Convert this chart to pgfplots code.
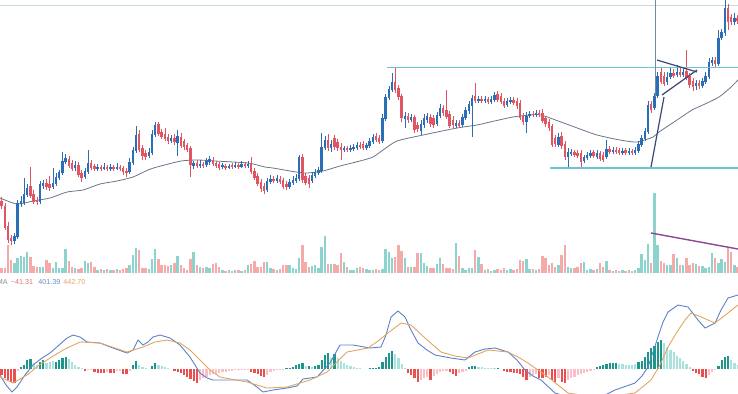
\documentclass[border=0pt]{standalone}
\usepackage{pgfplots}
\usepackage{pgfplotstable}
\pgfplotsset{compat=1.18}
\usepackage{fontspec}
\setmainfont{Liberation Sans}
\definecolor{upc}{HTML}{2C6EB5}
\definecolor{dnc}{HTML}{E05564}
\definecolor{volup}{HTML}{8CD2CD}
\definecolor{voldn}{HTML}{F5AAAA}
\definecolor{mdk}{HTML}{1E968C}
\definecolor{mlt}{HTML}{AAE1DC}
\definecolor{mred}{HTML}{EB5050}
\definecolor{mpink}{HTML}{FABEC8}
\definecolor{macdb}{HTML}{5A82C8}
\definecolor{macdo}{HTML}{E1A564}
\definecolor{maline}{HTML}{6A7588}
\definecolor{hline}{HTML}{6CC3D6}
\definecolor{vline}{HTML}{6E8CAA}
\definecolor{tri}{HTML}{3C4678}
\definecolor{trend}{HTML}{8C4696}
\definecolor{topl}{HTML}{C8DAE3}
\definecolor{lblgray}{HTML}{8A8A8A}
\definecolor{lblred}{HTML}{E57373}
\definecolor{lblblue}{HTML}{6B8CCC}
\definecolor{lblor}{HTML}{E0A860}
\pgfplotsset{cbar/.style 2 args={only marks, mark=*, mark size=0.01pt, mark options={draw opacity=0, fill opacity=0}, error bars/y dir=plus, error bars/y explicit, error bars/error mark=none, error bars/error bar style={line width=#1, color=#2, line cap=butt, solid, draw opacity=1}}}
\pgfplotstableread{
i u o h l c v m k
0 0 201 197 209 206 268 375 3
1 0 206 203 230 228 268 378 3
2 0 226 222 243 240 245 380 3
3 0 238 235 245 241 260 382 3
4 1 241 233 244 236 263 383 3
5 1 237 200 239 203 258 371 4
6 1 204 196 207 201 256 367 1
7 1 203 178 205 194 257 365 1
8 1 195 184 197 188 252 360 1
9 0 186 167 198 196 257 359 1
10 0 194 190 204 202 266 363 2
11 0 200 197 205 202 267 365 2
12 1 202 181 204 184 267 362 1
13 1 186 180 189 183 267 360 1
14 0 183 179 190 187 260 363 2
15 0 184 176 191 188 263 362 2
16 1 187 168 189 183 268 361 2
17 1 184 173 186 177 262 362 1
18 1 178 170 180 172 268 360 1
19 1 173 152 175 161 268 358 1
20 1 162 154 164 158 249 357 1
21 0 159 156 168 166 261 359 2
22 0 163 160 171 169 267 362 2
23 1 168 161 171 165 268 365 2
24 0 165 162 177 175 269 367 2
25 0 173 170 182 178 268 368 2
26 1 177 168 179 171 261 371 3
27 1 172 150 174 163 263 370 4
28 0 163 160 170 168 262 370 4
29 0 166 164 171 169 267 372 3
30 1 169 164 171 167 270 373 3
31 0 167 165 171 169 269 373 3
32 1 169 163 170 167 270 373 3
33 0 167 165 171 169 269 372 4
34 1 169 164 171 167 270 373 3
35 0 167 165 171 169 270 373 3
36 1 169 163 170 167 269 371 4
37 0 167 165 171 169 270 371 4
38 0 168 166 175 172 269 374 3
39 0 171 168 177 173 268 374 3
40 1 172 158 174 162 265 371 4
41 1 163 147 165 150 255 365 1
42 1 151 126 153 135 248 361 1
43 0 134 130 152 150 250 365 2
44 0 148 145 160 156 268 367 2
45 0 153 150 160 157 268 368 2
46 1 156 148 158 152 269 369 2
47 1 153 130 155 134 259 366 1
48 1 135 122 137 125 249 363 1
49 0 124 122 136 134 259 365 2
50 0 132 129 139 137 265 366 2
51 0 134 128 141 139 265 367 2
52 0 137 134 144 141 266 368 2
53 1 141 135 143 138 265 369 2
54 0 138 134 145 142 263 371 3
55 1 143 130 156 136 256 372 3
56 0 137 133 148 146 265 373 3
57 0 141 139 150 147 268 375 3
58 0 145 143 152 150 270 377 3
59 0 148 146 177 165 259 379 3
60 1 166 161 169 163 252 381 3
61 0 163 160 168 166 265 383 3
62 1 166 160 168 164 267 380 4
63 0 164 162 168 166 268 378 4
64 1 165 158 167 161 267 377 4
65 1 162 156 165 159 268 375 4
66 0 160 157 166 164 264 374 4
67 0 163 161 168 166 263 374 4
68 0 164 162 170 168 267 373 4
69 1 167 163 169 165 270 372 4
70 0 166 164 170 168 271 372 4
71 1 168 164 169 166 270 371 4
72 0 165 163 169 167 271 371 4
73 1 167 162 168 165 270 370 4
74 0 165 163 169 167 270 370 4
75 1 167 161 168 164 271 370 4
76 0 164 162 168 166 270 370 4
77 1 166 161 168 164 265 370 4
78 0 163 157 174 172 264 372 3
79 0 171 168 180 178 261 373 3
80 0 176 173 186 184 267 374 3
81 0 182 179 192 189 267 376 3
82 0 186 183 194 191 262 377 3
83 1 190 178 192 181 262 375 4
84 1 182 175 184 179 268 372 4
85 0 179 176 183 181 269 371 4
86 1 181 175 183 178 270 370 4
87 0 179 176 184 182 269 370 4
88 0 180 178 189 187 265 370 4
89 0 184 181 190 187 265 368 1
90 1 187 179 189 182 265 368 1
91 1 183 176 185 180 268 367 1
92 1 181 174 183 178 269 365 1
93 1 179 155 181 157 258 364 1
94 0 157 154 183 180 245 363 1
95 0 176 173 185 183 262 366 2
96 0 178 175 188 184 267 366 1
97 1 181 172 183 175 266 367 2
98 1 176 169 178 172 265 366 1
99 1 173 167 175 170 268 365 1
100 1 171 133 173 147 247 360 1
101 1 148 136 150 140 236 355 1
102 0 140 134 151 148 264 353 1
103 1 148 140 152 144 264 358 2
104 0 138 135 150 147 264 354 1
105 0 142 139 151 148 265 358 2
106 0 147 143 160 150 253 361 2
107 1 150 146 152 148 262 363 2
108 0 148 146 152 150 267 365 2
109 1 150 145 152 148 270 366 2
110 1 149 144 151 147 270 367 2
111 1 148 142 150 145 268 368 2
112 0 145 142 149 147 267 368 2
113 0 144 141 150 148 268 369 2
114 1 148 143 150 145 269 369 2
115 1 146 138 148 141 270 368 1
116 1 142 134 144 137 270 368 1
117 0 136 133 142 140 269 368 1
118 0 138 135 144 142 270 367 1
119 1 141 114 143 118 269 362 1
120 1 119 94 121 97 249 357 1
121 1 98 86 100 89 252 353 1
122 1 90 73 92 82 258 351 1
123 0 82 68 93 90 257 354 2
124 0 88 85 100 97 245 358 2
125 0 96 94 122 118 251 364 2
126 1 119 112 128 116 258 368 2
127 0 116 113 123 120 267 373 3
128 1 120 114 122 117 267 375 3
129 0 117 115 133 130 267 378 3
130 0 125 122 132 129 253 382 3
131 1 131 120 135 124 253 380 4
132 1 125 114 128 118 263 378 4
133 1 120 113 123 116 266 377 4
134 0 117 114 127 124 268 380 3
135 0 118 115 128 125 268 376 4
136 1 124 112 126 115 264 374 4
137 1 116 104 118 108 258 372 4
138 0 108 105 116 113 264 371 4
139 0 110 90 119 117 268 371 4
140 0 114 111 128 126 268 372 3
141 0 120 116 128 125 269 374 3
142 1 126 120 128 123 243 376 3
143 0 123 120 128 126 256 373 4
144 1 125 114 127 117 268 372 4
145 1 118 107 120 110 270 371 4
146 1 111 101 114 104 268 367 1
147 1 106 95 137 98 268 366 1
148 0 96 83 103 101 250 366 1
149 1 101 96 103 99 257 367 2
150 0 99 96 103 101 264 367 2
151 1 101 96 103 99 270 368 2
152 0 99 97 104 102 269 368 2
153 1 102 96 104 99 271 368 2
154 1 100 92 102 95 270 368 2
155 0 94 91 102 100 269 368 1
156 0 96 93 104 102 270 369 2
157 0 101 98 108 106 268 371 3
158 1 105 98 107 101 270 372 3
159 1 102 97 104 100 269 372 3
160 0 100 97 105 103 270 373 3
161 0 101 98 109 106 269 373 3
162 0 103 100 120 118 260 374 3
163 0 116 113 125 122 261 377 3
164 1 122 112 133 116 259 380 3
165 1 116 111 118 114 269 377 4
166 0 114 111 117 115 269 375 4
167 1 115 110 117 113 270 374 4
168 0 113 110 117 115 269 378 3
169 0 113 109 123 121 256 378 3
170 0 118 116 127 124 258 377 3
171 0 122 119 131 128 265 375 4
172 0 126 124 147 145 263 380 3
173 0 138 135 147 144 267 382 3
174 1 145 133 147 137 265 378 4
175 0 136 132 149 146 255 382 3
176 0 144 141 160 157 245 383 3
177 1 157 148 168 152 267 380 4
178 1 154 149 156 152 268 378 4
179 0 152 150 157 155 268 377 4
180 0 153 150 158 156 267 375 4
181 0 153 150 167 162 263 374 4
182 1 161 155 163 157 262 373 4
183 1 158 152 160 155 270 372 4
184 1 156 150 158 153 269 371 4
185 0 152 150 158 156 270 370 4
186 1 157 150 159 153 269 367 1
187 0 153 151 161 159 263 366 1
188 0 155 152 162 160 267 365 1
189 1 157 140 159 149 261 364 1
190 0 149 146 154 152 270 363 1
191 1 152 147 154 150 271 363 1
192 0 150 147 154 152 270 363 1
193 0 150 148 155 153 271 364 2
194 1 153 148 155 151 270 364 2
195 0 150 148 155 153 271 365 2
196 1 153 148 155 151 270 365 2
197 0 151 149 155 153 271 365 2
198 1 153 147 155 150 270 364 2
199 1 151 141 153 144 268 362 1
200 1 145 135 147 138 254 361 1
201 1 139 128 141 131 260 357 1
202 1 132 101 134 105 244 352 1
203 0 104 101 113 110 263 348 1
204 1 108 93 110 96 193 346 1
205 1 96 72 98 76 245 342 1
206 0 72 68 84 82 261 340 1
207 0 76 72 86 84 263 343 2
208 1 82 72 85 77 265 347 2
209 1 77 68 79 73 265 350 2
210 0 73 69 78 76 254 352 2
211 1 75 65 77 72 258 356 2
212 0 72 68 77 75 265 358 2
213 1 75 67 77 72 265 361 2
214 0 71 50 80 78 258 364 2
215 0 76 73 88 85 265 367 2
216 0 81 78 91 87 263 371 3
217 1 86 80 90 83 264 373 3
218 0 83 80 89 86 266 374 3
219 1 86 78 88 81 266 377 3
220 1 82 72 84 76 268 378 3
221 1 77 58 79 62 267 375 4
222 1 63 57 66 60 253 372 4
223 0 60 57 68 64 258 370 4
224 1 64 30 66 38 263 366 1
225 1 38 29 40 32 259 360 1
226 1 33 0 36 8 262 357 1
227 0 8 4 30 22 247 356 1
228 0 17 14 25 22 252 360 2
229 1 22 13 25 18 265 363 2
230 0 18 15 24 21 267 365 2
}\data
\begin{document}
\begin{tikzpicture}
\begin{axis}[width=369pt, height=196.5pt, scale only axis,
  xmin=0, xmax=738, ymin=0, ymax=393, y dir=reverse,
  hide axis, clip=true]
\coordinate (SW) at (rel axis cs:0,0);
\coordinate (NE) at (rel axis cs:1,1);
% top line
\addplot[topl, line width=0.5pt] coordinates {(0,5) (738,5)};
% volume
\addplot[restrict expr to domain={\thisrow{u}}{0.5:1.5}, cbar={1.2pt}{volup}] table[x expr=1.6+3.2*\thisrow{i}, y=v, y error plus expr=273-\thisrow{v}] {\data};
\addplot[restrict expr to domain={\thisrow{u}}{-0.5:0.5}, cbar={1.2pt}{voldn}] table[x expr=1.6+3.2*\thisrow{i}, y=v, y error plus expr=273-\thisrow{v}] {\data};
% MACD histogram
\addplot[restrict expr to domain={\thisrow{k}}{0.5:1.5}, cbar={1.1pt}{mdk}] table[x expr=1.6+3.2*\thisrow{i}, y=m, y error plus expr=369-\thisrow{m}] {\data};
\addplot[restrict expr to domain={\thisrow{k}}{1.5:2.5}, cbar={1.1pt}{mlt}] table[x expr=1.6+3.2*\thisrow{i}, y=m, y error plus expr=369-\thisrow{m}] {\data};
\addplot[restrict expr to domain={\thisrow{k}}{2.5:3.5}, cbar={1.1pt}{mred}] table[x expr=1.6+3.2*\thisrow{i}, y expr=369, y error plus expr=\thisrow{m}-369] {\data};
\addplot[restrict expr to domain={\thisrow{k}}{3.5:4.5}, cbar={1.1pt}{mpink}] table[x expr=1.6+3.2*\thisrow{i}, y expr=369, y error plus expr=\thisrow{m}-369] {\data};
% MACD lines
\addplot[macdb, line width=0.45pt] coordinates {(0,375) (6,385) (12,392) (17,387) (25,375) (33,365) (42,358) (50,353) (58,346) (67,338) (73,335) (80,337) (87,342) (100,343) (113,348) (127,353) (133,350) (138,340) (143,345) (148,342) (153,337) (160,335) (170,338) (180,345) (190,357) (200,373) (207,378) (213,380) (233,380) (247,380) (257,387) (263,392) (273,390) (287,388) (297,386) (303,379) (317,377) (330,363) (340,345) (353,345) (370,348) (381,347) (386,335) (391,317) (398,311) (405,317) (411,330) (418,343) (427,350) (435,355) (451,358) (465,360) (475,352) (485,349) (495,348) (508,352) (517,360) (525,370) (533,376) (541,380) (555,393) (568,397) (601,397) (615,390) (635,383) (642,376) (648,367) (653,352) (658,337) (663,322) (668,312) (678,305) (688,307) (698,320) (705,328) (715,323) (721,310) (728,298) (738,295)};
\addplot[macdo, line width=0.45pt] coordinates {(0,377) (13,383) (27,375) (38,366) (50,358) (65,349) (80,342) (100,343) (127,352) (143,347) (155,342) (167,340) (180,343) (190,350) (200,360) (210,370) (220,377) (247,382) (267,388) (287,387) (310,380) (327,372) (337,362) (347,352) (368,348) (378,341) (388,333) (401,323) (411,325) (425,338) (441,352) (455,356) (468,358) (478,354) (488,350) (508,352) (518,357) (528,363) (548,377) (568,393) (600,398) (635,393) (651,380) (660,365) (668,347) (677,332) (685,320) (691,313) (701,317) (715,323) (728,313) (738,305)};
% moving average
\addplot[maline, line width=0.4pt, smooth, tension=0.4] coordinates {(0,198) (17,204) (33,201) (50,198) (67,192) (83,190) (100,184) (117,181) (133,177) (148,170) (157,167) (181,161) (198,160) (215,161) (248,163) (265,167) (273,168) (296,172) (307,173) (323,171) (340,166) (360,161) (373,157) (383,150) (397,141) (423,135) (457,128) (477,125) (490,122) (513,117) (530,115) (541,115) (561,122) (580,129) (597,135) (620,140) (637,142) (653,137) (659,132) (680,118) (692,110) (705,104) (719,97) (730,88) (738,80)};
% candle wicks
\addplot[restrict expr to domain={\thisrow{u}}{0.5:1.5}, cbar={0.3pt}{upc}] table[x expr=1.6+3.2*\thisrow{i}, y=h, y error plus expr=\thisrow{l}-\thisrow{h}] {\data};
\addplot[restrict expr to domain={\thisrow{u}}{-0.5:0.5}, cbar={0.3pt}{dnc}] table[x expr=1.6+3.2*\thisrow{i}, y=h, y error plus expr=\thisrow{l}-\thisrow{h}] {\data};
% candle bodies
\addplot[restrict expr to domain={\thisrow{u}}{0.5:1.5}, cbar={1.15pt}{upc}] table[x expr=1.6+3.2*\thisrow{i}, y=c, y error plus expr=\thisrow{o}-\thisrow{c}] {\data};
\addplot[restrict expr to domain={\thisrow{u}}{-0.5:0.5}, cbar={1.15pt}{dnc}] table[x expr=1.6+3.2*\thisrow{i}, y=o, y error plus expr=\thisrow{c}-\thisrow{o}] {\data};
% drawings
\addplot[hline, line width=0.55pt] coordinates {(387,67.5) (738,67.5)};
\addplot[hline, line width=0.55pt] coordinates {(550,168) (738,168)};
\addplot[vline, line width=0.5pt] coordinates {(655,0) (655,97)};
\addplot[tri, line width=0.6pt] coordinates {(657,60) (697,72)};
\addplot[tri, line width=0.6pt] coordinates {(662,95) (697,70)};
\addplot[tri, line width=0.6pt] coordinates {(651,167) (664,97)};
\addplot[trend, line width=0.7pt] coordinates {(651,233) (738,249)};
% MACD legend text
\node[anchor=base west, inner sep=0pt, font=\fontsize{3.6}{4}\selectfont, text=lblgray] at (axis cs:-3.5,284.5) {MA};
\node[anchor=base west, inner sep=0pt, font=\fontsize{3.6}{4}\selectfont, text=lblred] at (axis cs:10.5,284.5) {−41.31};
\node[anchor=base west, inner sep=0pt, font=\fontsize{3.6}{4}\selectfont, text=lblblue] at (axis cs:38,284.5) {401.39};
\node[anchor=base west, inner sep=0pt, font=\fontsize{3.6}{4}\selectfont, text=lblor] at (axis cs:63,284.5) {442.70};
\end{axis}
\pgfresetboundingbox
\path (SW) rectangle (NE);
\end{tikzpicture}
\end{document}
